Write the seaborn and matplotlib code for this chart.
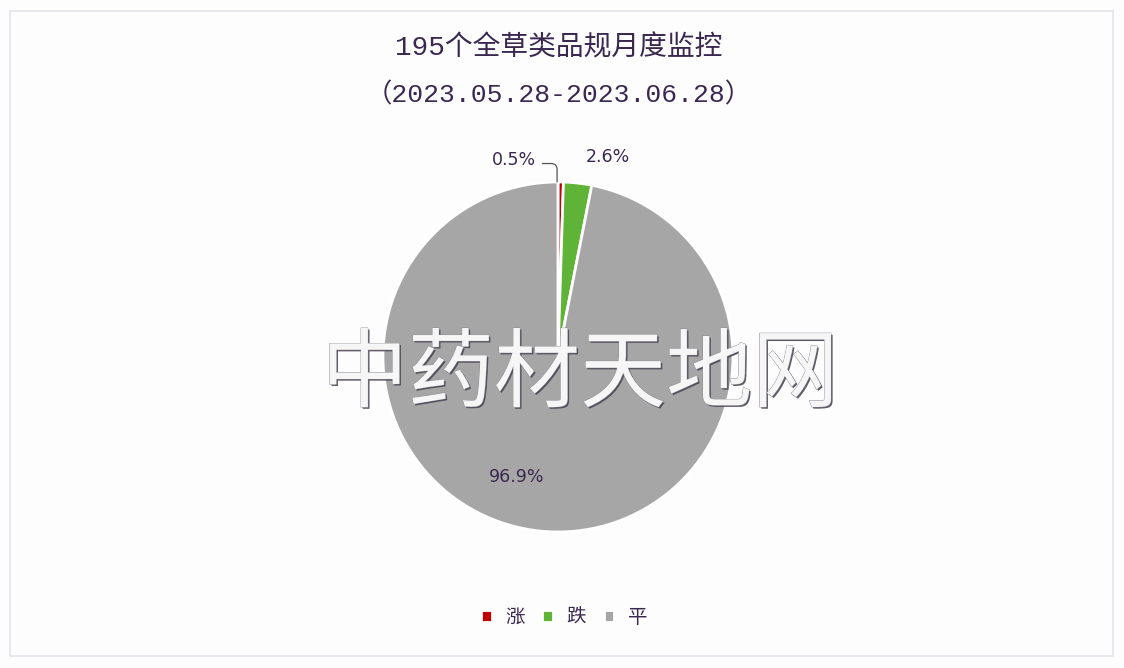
import matplotlib
matplotlib.use('Agg')
import matplotlib.pyplot as plt
import matplotlib.patheffects as pe
from matplotlib.patches import Rectangle
import seaborn as sns

# data
categories = ['涨', '跌', '平']
shares = [0.5, 2.6, 96.9]
colors = ['#c00000', '#5fb336', '#a6a6a6']
title_line1 = '195个全草类品规月度监控'
title_line2 = '（2023.05.28-2023.06.28）'
watermark = '中药材天地网'

sns.set_theme(style='white')
plt.rcParams['font.family'] = ['Noto Sans CJK SC', 'DejaVu Sans']

fig = plt.figure(figsize=(11.24, 6.68), dpi=100)
fig.patch.set_facecolor('#fdfdfe')
fig.patches.append(Rectangle((0.009, 0.018), 0.981, 0.965, transform=fig.transFigure,
                             fill=False, edgecolor='#e2e4ea', linewidth=1.2))

ax = fig.add_axes([0.3407, 0.2036, 0.3114, 0.524])
wedges, _ = ax.pie(shares, colors=colors, startangle=90, counterclock=False,
                   wedgeprops=dict(edgecolor='white', linewidth=2.0))
ax.set_xlim(-1, 1)
ax.set_ylim(-1, 1)
ax.set_aspect('equal')
ax.axis('off')

txt_color = '#3a2850'
lbl = dict(ha='center', va='center', fontsize=12.5, color=txt_color,
           family=['DejaVu Sans'])
ax.text(0.286, 1.143, f'{shares[1]}%', **lbl)
ax.text(-0.234, -0.686, f'{shares[2]}%', **lbl)
ax.annotate(f'{shares[0]}%', xy=(-0.005, 1.0), xytext=(-0.25, 1.126),
            arrowprops=dict(arrowstyle='-', color='#555555', lw=0.9,
                            shrinkA=2, shrinkB=0, relpos=(1.0, 0.3),
                            connectionstyle='angle,angleA=0,angleB=90,rad=6'),
            annotation_clip=False, **lbl)

title_fam = ['Liberation Mono', 'Noto Sans CJK SC']
fig.text(0.497, 0.928, title_line1, ha='center', va='center', fontsize=20,
         color=txt_color, family=title_fam)
fig.text(0.497, 0.858, title_line2, ha='center', va='center', fontsize=19,
         color=txt_color, family=title_fam)

# watermark: light glyphs with a thin dark edge (shows as thin lines off the pie)
fig.text(0.516, 0.437, watermark, ha='center', va='center', fontsize=62,
         fontweight='light', color='#f6f6f7',
         path_effects=[pe.SimplePatchShadow(offset=(1.2, -1.2), shadow_rgbFace='#4e4856',
                                            alpha=0.9),
                       pe.Stroke(linewidth=0.6, foreground='#8a8590'),
                       pe.Normal()])

fig.legend(wedges, categories, loc='center', bbox_to_anchor=(0.502, 0.076), ncol=3,
           frameon=False, fontsize=14, handlelength=0.55, handleheight=0.55,
           handletextpad=0.7, columnspacing=0.9, labelcolor=txt_color)

fig.savefig('out.png', dpi=100, facecolor=fig.get_facecolor())
